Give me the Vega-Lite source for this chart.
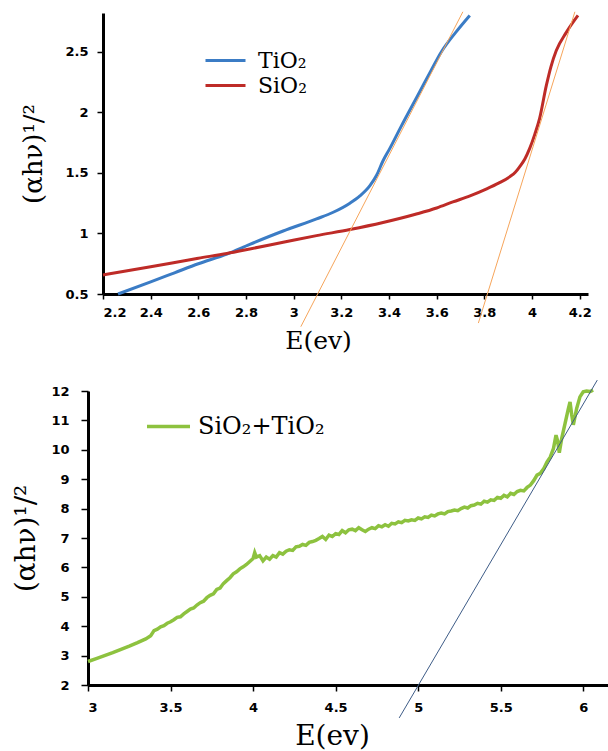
{
  "$schema": "https://vega.github.io/schema/vega-lite/v6.json",
  "padding": {"left": 12, "top": 9, "right": 0, "bottom": 0},
  "spacing": 25,
  "config": {
    "view": {"stroke": null},
    "axis": {
      "grid": false,
      "domainColor": "black",
      "domainWidth": 3,
      "tickColor": "black",
      "tickWidth": 1.5,
      "labelFont": "DejaVu Sans",
      "labelFontWeight": "bold",
      "labelFontSize": 13,
      "labelColor": "black",
      "titleFont": "DejaVu Serif",
      "titleFontWeight": "normal",
      "titleColor": "black"
    },
    "legend": {
      "labelFont": "DejaVu Serif",
      "labelColor": "black",
      "padding": 0,
      "symbolType": "stroke",
      "symbolStrokeWidth": 3
    }
  },
  "datasets": {
    "topCurves": [
      {"E": 2.263, "v": 0.50, "s": "TiO₂"},
      {"E": 2.4, "v": 0.60, "s": "TiO₂"},
      {"E": 2.5, "v": 0.675, "s": "TiO₂"},
      {"E": 2.6, "v": 0.75, "s": "TiO₂"},
      {"E": 2.72, "v": 0.83, "s": "TiO₂"},
      {"E": 2.816, "v": 0.91, "s": "TiO₂"},
      {"E": 2.956, "v": 1.02, "s": "TiO₂"},
      {"E": 3.096, "v": 1.12, "s": "TiO₂"},
      {"E": 3.166, "v": 1.175, "s": "TiO₂"},
      {"E": 3.236, "v": 1.25, "s": "TiO₂"},
      {"E": 3.278, "v": 1.31, "s": "TiO₂"},
      {"E": 3.32, "v": 1.395, "s": "TiO₂"},
      {"E": 3.348, "v": 1.48, "s": "TiO₂"},
      {"E": 3.375, "v": 1.60, "s": "TiO₂"},
      {"E": 3.403, "v": 1.70, "s": "TiO₂"},
      {"E": 3.45, "v": 1.88, "s": "TiO₂"},
      {"E": 3.529, "v": 2.17, "s": "TiO₂"},
      {"E": 3.575, "v": 2.34, "s": "TiO₂"},
      {"E": 3.62, "v": 2.50, "s": "TiO₂"},
      {"E": 3.68, "v": 2.66, "s": "TiO₂"},
      {"E": 3.739, "v": 2.80, "s": "TiO₂"},
      {"E": 2.2, "v": 0.657, "s": "SiO₂"},
      {"E": 2.4, "v": 0.725, "s": "SiO₂"},
      {"E": 2.6, "v": 0.795, "s": "SiO₂"},
      {"E": 2.72, "v": 0.835, "s": "SiO₂"},
      {"E": 2.816, "v": 0.872, "s": "SiO₂"},
      {"E": 2.956, "v": 0.927, "s": "SiO₂"},
      {"E": 3.096, "v": 0.982, "s": "SiO₂"},
      {"E": 3.236, "v": 1.032, "s": "SiO₂"},
      {"E": 3.375, "v": 1.09, "s": "SiO₂"},
      {"E": 3.515, "v": 1.16, "s": "SiO₂"},
      {"E": 3.60, "v": 1.21, "s": "SiO₂"},
      {"E": 3.668, "v": 1.26, "s": "SiO₂"},
      {"E": 3.74, "v": 1.31, "s": "SiO₂"},
      {"E": 3.81, "v": 1.368, "s": "SiO₂"},
      {"E": 3.86, "v": 1.415, "s": "SiO₂"},
      {"E": 3.906, "v": 1.467, "s": "SiO₂"},
      {"E": 3.93, "v": 1.505, "s": "SiO₂"},
      {"E": 3.948, "v": 1.55, "s": "SiO₂"},
      {"E": 3.97, "v": 1.615, "s": "SiO₂"},
      {"E": 3.99, "v": 1.70, "s": "SiO₂"},
      {"E": 4.012, "v": 1.82, "s": "SiO₂"},
      {"E": 4.032, "v": 1.95, "s": "SiO₂"},
      {"E": 4.06, "v": 2.22, "s": "SiO₂"},
      {"E": 4.08, "v": 2.38, "s": "SiO₂"},
      {"E": 4.102, "v": 2.51, "s": "SiO₂"},
      {"E": 4.144, "v": 2.66, "s": "SiO₂"},
      {"E": 4.193, "v": 2.80, "s": "SiO₂"}
    ],
    "topTangents": [
      {"E": 3.03, "v": 0.23, "id": "t1"},
      {"E": 3.71, "v": 2.83, "id": "t1"},
      {"E": 3.775, "v": 0.26, "id": "t2"},
      {"E": 4.18, "v": 2.83, "id": "t2"}
    ],
    "bottomCurve": [
      {"E": 3.00, "v": 2.80}, {"E": 3.05, "v": 2.90}, {"E": 3.10, "v": 3.00}, {"E": 3.15, "v": 3.10},
      {"E": 3.20, "v": 3.21}, {"E": 3.25, "v": 3.32}, {"E": 3.30, "v": 3.44}, {"E": 3.35, "v": 3.57},
      {"E": 3.38, "v": 3.68}, {"E": 3.40, "v": 3.85}, {"E": 3.42, "v": 3.90}, {"E": 3.44, "v": 3.98},
      {"E": 3.46, "v": 4.02}, {"E": 3.48, "v": 4.10}, {"E": 3.50, "v": 4.15}, {"E": 3.52, "v": 4.22},
      {"E": 3.54, "v": 4.30}, {"E": 3.56, "v": 4.32}, {"E": 3.58, "v": 4.42}, {"E": 3.60, "v": 4.50},
      {"E": 3.62, "v": 4.58}, {"E": 3.64, "v": 4.62}, {"E": 3.66, "v": 4.72}, {"E": 3.68, "v": 4.80},
      {"E": 3.70, "v": 4.85}, {"E": 3.72, "v": 4.97}, {"E": 3.74, "v": 5.05}, {"E": 3.76, "v": 5.10},
      {"E": 3.78, "v": 5.25}, {"E": 3.80, "v": 5.30}, {"E": 3.82, "v": 5.45}, {"E": 3.84, "v": 5.55},
      {"E": 3.86, "v": 5.65}, {"E": 3.88, "v": 5.78}, {"E": 3.90, "v": 5.85}, {"E": 3.92, "v": 5.95},
      {"E": 3.94, "v": 6.02}, {"E": 3.96, "v": 6.10}, {"E": 3.98, "v": 6.20}, {"E": 4.00, "v": 6.30},
      {"E": 4.01, "v": 6.50}, {"E": 4.02, "v": 6.35}, {"E": 4.04, "v": 6.40}, {"E": 4.06, "v": 6.22},
      {"E": 4.08, "v": 6.35}, {"E": 4.10, "v": 6.28}, {"E": 4.12, "v": 6.40}, {"E": 4.14, "v": 6.35},
      {"E": 4.16, "v": 6.50}, {"E": 4.18, "v": 6.45}, {"E": 4.20, "v": 6.55}, {"E": 4.22, "v": 6.60},
      {"E": 4.24, "v": 6.58}, {"E": 4.26, "v": 6.70}, {"E": 4.28, "v": 6.72}, {"E": 4.30, "v": 6.78},
      {"E": 4.32, "v": 6.75}, {"E": 4.34, "v": 6.85}, {"E": 4.36, "v": 6.88}, {"E": 4.38, "v": 6.92},
      {"E": 4.40, "v": 6.98}, {"E": 4.42, "v": 7.05}, {"E": 4.44, "v": 6.95}, {"E": 4.46, "v": 7.10},
      {"E": 4.48, "v": 7.05}, {"E": 4.50, "v": 7.15}, {"E": 4.52, "v": 7.12}, {"E": 4.54, "v": 7.25},
      {"E": 4.56, "v": 7.18}, {"E": 4.58, "v": 7.28}, {"E": 4.60, "v": 7.30}, {"E": 4.62, "v": 7.25},
      {"E": 4.64, "v": 7.35}, {"E": 4.66, "v": 7.28}, {"E": 4.68, "v": 7.22}, {"E": 4.70, "v": 7.30},
      {"E": 4.72, "v": 7.35}, {"E": 4.74, "v": 7.32}, {"E": 4.76, "v": 7.42}, {"E": 4.78, "v": 7.38},
      {"E": 4.80, "v": 7.45}, {"E": 4.82, "v": 7.40}, {"E": 4.84, "v": 7.50}, {"E": 4.86, "v": 7.48},
      {"E": 4.88, "v": 7.55}, {"E": 4.90, "v": 7.52}, {"E": 4.92, "v": 7.60}, {"E": 4.94, "v": 7.58},
      {"E": 4.96, "v": 7.62}, {"E": 4.98, "v": 7.60}, {"E": 5.00, "v": 7.68}, {"E": 5.02, "v": 7.65},
      {"E": 5.04, "v": 7.72}, {"E": 5.06, "v": 7.70}, {"E": 5.08, "v": 7.78}, {"E": 5.10, "v": 7.75},
      {"E": 5.12, "v": 7.82}, {"E": 5.14, "v": 7.85}, {"E": 5.16, "v": 7.82}, {"E": 5.18, "v": 7.90},
      {"E": 5.20, "v": 7.92}, {"E": 5.22, "v": 7.95}, {"E": 5.24, "v": 7.93}, {"E": 5.26, "v": 8.00},
      {"E": 5.28, "v": 8.05}, {"E": 5.30, "v": 8.02}, {"E": 5.32, "v": 8.10}, {"E": 5.34, "v": 8.12},
      {"E": 5.36, "v": 8.18}, {"E": 5.38, "v": 8.15}, {"E": 5.40, "v": 8.25}, {"E": 5.42, "v": 8.22},
      {"E": 5.44, "v": 8.30}, {"E": 5.46, "v": 8.28}, {"E": 5.48, "v": 8.38}, {"E": 5.50, "v": 8.35},
      {"E": 5.52, "v": 8.45}, {"E": 5.54, "v": 8.40}, {"E": 5.56, "v": 8.52}, {"E": 5.58, "v": 8.48},
      {"E": 5.60, "v": 8.58}, {"E": 5.62, "v": 8.62}, {"E": 5.64, "v": 8.60}, {"E": 5.66, "v": 8.72},
      {"E": 5.68, "v": 8.80}, {"E": 5.70, "v": 8.95}, {"E": 5.72, "v": 9.14}, {"E": 5.74, "v": 9.20},
      {"E": 5.76, "v": 9.35}, {"E": 5.78, "v": 9.58}, {"E": 5.80, "v": 9.75}, {"E": 5.82, "v": 10.05},
      {"E": 5.835, "v": 10.5}, {"E": 5.845, "v": 10.3}, {"E": 5.855, "v": 9.9}, {"E": 5.87, "v": 10.4},
      {"E": 5.89, "v": 10.9}, {"E": 5.91, "v": 11.4}, {"E": 5.92, "v": 11.63}, {"E": 5.93, "v": 11.2},
      {"E": 5.94, "v": 10.85}, {"E": 5.96, "v": 11.4}, {"E": 5.98, "v": 11.8}, {"E": 6.00, "v": 11.97},
      {"E": 6.02, "v": 12.0}, {"E": 6.04, "v": 11.98}, {"E": 6.06, "v": 12.03}
    ],
    "bottomTangent": [
      {"E": 4.885, "v": 0.88},
      {"E": 6.085, "v": 12.37}
    ]
  },
  "resolve": {"scale": {"color": "independent"}, "legend": {"color": "independent"}},
  "vconcat": [
    {
      "bounds": "flush",
      "spacing": 0,
      "hconcat": [
        {
          "width": 15,
          "height": 10,
          "data": {"values": []},
          "mark": "point"
        },
        {
          "width": 485,
          "height": 281,
          "encoding": {
            "x": {
              "field": "E", "type": "quantitative",
              "scale": {"domain": [2.2, 4.235], "nice": false, "zero": false},
              "axis": {
                "values": [2.2, 2.4, 2.6, 2.8, 3, 3.2, 3.4, 3.6, 3.8, 4, 4.2],
                "format": "~g",
                "tickSize": 5, "labelPadding": 7,
                "title": "E(ev)", "titleFontSize": 25, "titlePadding": 9,
                "titleX": 215, "titleAlign": "center"
              }
            },
            "y": {
              "field": "v", "type": "quantitative",
              "scale": {"domain": [0.5, 2.82], "nice": false, "zero": false},
              "axis": {
                "values": [0.5, 1, 1.5, 2, 2.5],
                "format": "~g",
                "tickSize": 6, "labelPadding": 9,
                "title": "(αhν)¹/²", "titleFontSize": 26, "titlePadding": 18
              }
            }
          },
          "layer": [
            {
              "data": {"name": "topCurves"},
              "mark": {"type": "line", "strokeWidth": 3, "interpolate": "monotone"},
              "encoding": {
                "color": {
                  "field": "s", "type": "nominal",
                  "scale": {"domain": ["TiO₂", "SiO₂"], "range": ["#3B7CC5", "#BE2B27"]},
                  "legend": {
                    "title": null, "orient": "none", "legendX": 126, "legendY": 36,
                    "symbolType": "M-2,0H2", "symbolSize": 400,
                    "labelFontSize": 22, "labelOffset": 21, "rowPadding": 2
                  }
                }
              }
            },
            {
              "data": {"name": "topTangents"},
              "mark": {"type": "line", "strokeWidth": 1, "color": "#F6A55B"},
              "encoding": {"detail": {"field": "id", "type": "nominal"}}
            }
          ]
        }
      ]
    },
    {
      "width": 520,
      "height": 294,
      "encoding": {
        "x": {
          "field": "E", "type": "quantitative",
          "scale": {"domain": [3, 6.15], "nice": false, "zero": false},
          "axis": {
            "values": [3, 3.5, 4, 4.5, 5, 5.5, 6],
            "format": "~g",
            "tickSize": 6, "labelPadding": 10,
            "title": "E(ev)", "titleFontSize": 28, "titlePadding": 8,
            "titleX": 244, "titleAlign": "center"
          }
        },
        "y": {
          "field": "v", "type": "quantitative",
          "scale": {"domain": [2, 12], "nice": false, "zero": false},
          "axis": {
            "values": [2, 3, 4, 5, 6, 7, 8, 9, 10, 11, 12],
            "format": "~g",
            "tickSize": 7, "labelPadding": 12,
            "title": "(αhν)¹/²", "titleFontSize": 28, "titlePadding": 10
          }
        }
      },
      "layer": [
        {
          "data": {"name": "bottomCurve"},
          "transform": [{"calculate": "'SiO₂+TiO₂'", "as": "s"}],
          "mark": {"type": "line", "strokeWidth": 3.5},
          "encoding": {
            "color": {
              "field": "s", "type": "nominal",
              "scale": {"domain": ["SiO₂+TiO₂"], "range": ["#8DC23F"]},
              "legend": {
                "title": null, "orient": "none", "legendX": 57, "legendY": 12,
                "symbolSize": 1850, "symbolStrokeWidth": 3.5, "labelFontSize": 24, "labelOffset": 6
              }
            }
          }
        },
        {
          "data": {"name": "bottomTangent"},
          "mark": {"type": "line", "strokeWidth": 1, "color": "#3E5C87"},
          "encoding": {}
        }
      ]
    }
  ]
}
